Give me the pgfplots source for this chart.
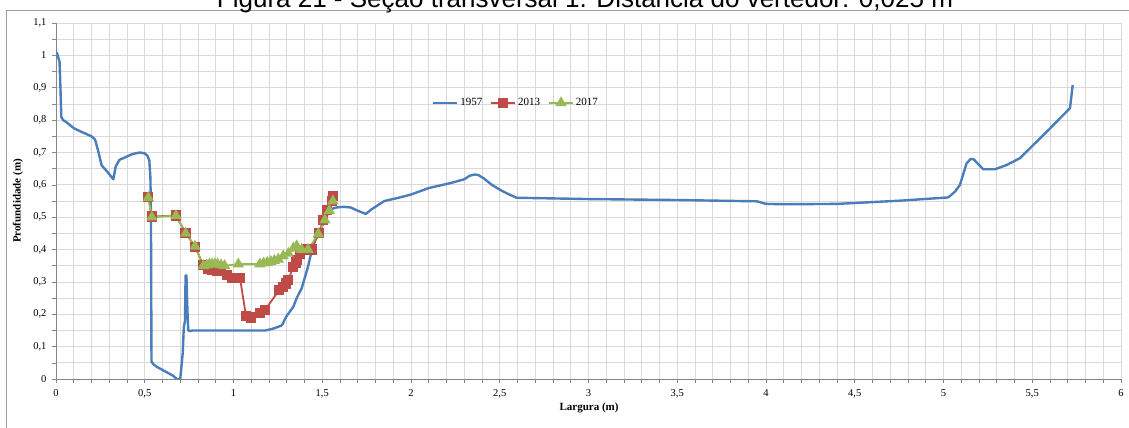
\documentclass[border=0pt]{standalone}
\usepackage{pgfplots}
\pgfplotsset{compat=1.18}
\usepackage{fontspec}
\setmainfont{Liberation Serif}
\newfontfamily\arial{Liberation Sans}
\definecolor{c57}{HTML}{4A7EBB}
\definecolor{c13}{HTML}{BE4B48}
\definecolor{c17}{HTML}{98B954}
\definecolor{gridc}{HTML}{D9D9D9}
\definecolor{axc}{HTML}{868686}

\pgfplotstableread{
x y
0.004 1.01
0.02 0.98
0.025 0.90
0.03 0.81
0.04 0.80
0.06 0.793
0.10 0.775
0.15 0.762
0.20 0.75
0.22 0.74
0.24 0.70
0.257 0.66
0.29 0.64
0.323 0.617
0.336 0.656
0.357 0.677
0.39 0.685
0.43 0.695
0.473 0.70
0.50 0.697
0.515 0.69
0.526 0.675
0.532 0.62
0.535 0.50
0.537 0.20
0.538 0.053
0.55 0.045
0.567 0.038
0.60 0.028
0.66 0.01
0.68 0.0
0.70 0.0
0.714 0.08
0.72 0.16
0.727 0.18
0.73 0.32
0.735 0.32
0.74 0.22
0.745 0.15
0.755 0.148
0.77 0.15
0.90 0.15
1.0 0.15
1.18 0.15
1.22 0.155
1.27 0.165
1.28 0.172
1.285 0.18
1.30 0.195
1.337 0.223
1.356 0.25
1.384 0.28
1.42 0.347
1.44 0.395
1.46 0.43
1.49 0.46
1.52 0.5
1.55 0.525
1.58 0.53
1.62 0.532
1.66 0.53
1.70 0.52
1.745 0.51
1.78 0.525
1.85 0.55
1.93 0.56
2.0 0.57
2.1 0.59
2.22 0.605
2.30 0.617
2.33 0.628
2.36 0.632
2.38 0.630
2.41 0.62
2.455 0.60
2.51 0.582
2.558 0.569
2.595 0.56
3.0 0.556
3.5 0.553
3.95 0.549
4.0 0.541
4.1 0.540
4.4 0.541
4.755 0.551
5.027 0.561
5.065 0.579
5.093 0.60
5.13 0.666
5.153 0.68
5.17 0.679
5.224 0.648
5.29 0.648
5.355 0.661
5.43 0.682
5.506 0.723
5.60 0.774
5.713 0.837
5.728 0.908
}\tblA

\pgfplotstableread{
x y
0.52 0.563
0.54 0.502
0.676 0.505
0.73 0.452
0.783 0.409
0.83 0.352
0.858 0.340
0.88 0.337
0.905 0.334
0.93 0.333
0.965 0.321
0.99 0.311
1.015 0.311
1.037 0.311
1.07 0.195
1.10 0.19
1.149 0.205
1.177 0.213
1.258 0.275
1.28 0.285
1.295 0.295
1.309 0.306
1.337 0.347
1.35 0.36
1.356 0.368
1.375 0.388
1.413 0.40
1.44 0.40
1.48 0.45
1.506 0.491
1.525 0.522
1.555 0.55
1.56 0.565
}\tblB

\pgfplotstableread{
x y
0.52 0.56
0.54 0.50
0.676 0.505
0.73 0.45
0.783 0.41
0.83 0.35
0.85 0.352
0.865 0.355
0.88 0.355
0.895 0.355
0.91 0.355
0.93 0.352
0.95 0.35
1.027 0.355
1.149 0.355
1.17 0.358
1.19 0.36
1.21 0.363
1.23 0.366
1.252 0.37
1.28 0.38
1.309 0.388
1.337 0.404
1.356 0.411
1.384 0.40
1.42 0.40
1.478 0.448
1.515 0.491
1.54 0.52
1.56 0.55
}\tblC

\begin{document}
\begin{tikzpicture}
\path[use as bounding box] (0pt,0pt) rectangle (1129pt,428pt);
\draw[color=axc!80, line width=1pt] (6.5pt,-20pt) rectangle (1150pt,417.5pt);
\node[anchor=base, font=\arial\fontsize{26}{28}\selectfont, text=black] at (585pt,420pt) {Figura 21 - Seção transversal 1. Distância do vertedor: 0,025 m};
\node[rotate=90, font=\bfseries\fontsize{11}{13}\selectfont] at (18pt,227pt) {Profundidade (m)};
\node[font=\bfseries\fontsize{11}{13}\selectfont] at (589pt,20pt) {Largura (m)};
\begin{axis}[
  at={(56pt,49pt)}, anchor=south west,
  width=1065pt, height=356pt, scale only axis,
  xmin=0, xmax=6, ymin=0, ymax=1.1,
  xtick={0,0.5,1,1.5,2,2.5,3,3.5,4,4.5,5,5.5,6},
  ytick={0,0.1,0.2,0.3,0.4,0.5,0.6,0.7,0.8,0.9,1,1.1},
  minor x tick num=4, minor y tick num=1,
  grid=both,
  major grid style={gridc, line width=0.8pt},
  minor grid style={gridc, line width=0.8pt},
  axis x line*=bottom, axis y line*=left,
  axis line style={-, axc, line width=0.8pt},
  tick align=outside,
  major tick length=4pt, minor tick length=4pt,
  tick style={axc, line width=0.6pt},
  /pgf/number format/.cd, use comma, fixed, assume math mode=true,
  /pgfplots/.cd,
  ticklabel style={font=\fontsize{10.5}{12}\selectfont},
  xticklabel style={yshift=-3pt},
  yticklabel style={xshift=-2pt},
  legend style={at={(axis cs:2.1,0.853)}, anchor=west, draw=none, fill=none,
    font=\fontsize{11}{13}\selectfont, legend columns=3,
    /tikz/every even column/.append style={column sep=6pt}},
  legend image code/.code={\draw[mark repeat=2,mark phase=2] plot coordinates {(0pt,0pt) (12pt,0pt) (24pt,0pt)};},
]
\addplot[c57, line width=2.4pt, line join=round] table[x=x,y=y] {\tblA};
\addlegendentry{1957}
\addplot[c13, line width=1.8pt, mark=square*, mark size=4.2pt, mark options={solid}] table[x=x,y=y] {\tblB};
\addlegendentry{2013}
\addplot[c17, line width=1.8pt, mark=triangle*, mark size=4.8pt, mark options={solid}] table[x=x,y=y] {\tblC};
\addlegendentry{2017}
\end{axis}
\end{tikzpicture}
\end{document}
